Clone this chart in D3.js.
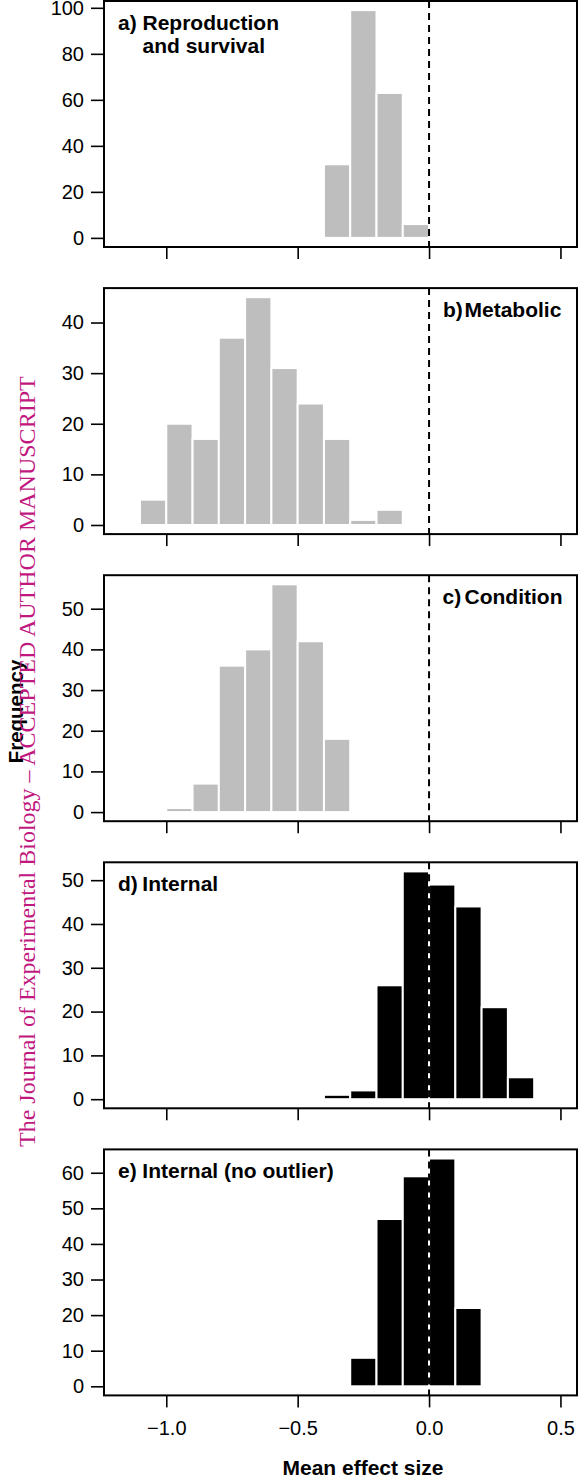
<!DOCTYPE html>
<html><head><meta charset="utf-8">
<script src="https://cdnjs.cloudflare.com/ajax/libs/d3/7.8.5/d3.min.js"></script>
<style>body{margin:0;background:#fff}</style>
</head><body><div id="chart"></div>
<script>
// ---------- data ----------
const binWidth = 0.1;
const binStartsA = [-0.4, -0.3, -0.2, -0.1];
const countsA    = [32, 99, 63, 6];
const binStartsB = [-1.1, -1.0, -0.9, -0.8, -0.7, -0.6, -0.5, -0.4, -0.3, -0.2];
const countsB    = [5, 20, 17, 37, 45, 31, 24, 17, 1, 3];
const binStartsC = [-1.0, -0.9, -0.8, -0.7, -0.6, -0.5, -0.4];
const countsC    = [1, 7, 36, 40, 56, 42, 18];
const binStartsD = [-0.4, -0.3, -0.2, -0.1, 0.0, 0.1, 0.2, 0.3];
const countsD    = [1, 2, 26, 52, 49, 44, 21, 5];
const binStartsE = [-0.3, -0.2, -0.1, 0.0, 0.1];
const countsE    = [8, 47, 59, 64, 22];

const yTicksA = [0, 20, 40, 60, 80, 100];
const yTicksB = [0, 10, 20, 30, 40];
const yTicksC = [0, 10, 20, 30, 40, 50];
const yTicksD = [0, 10, 20, 30, 40, 50];
const yTicksE = [0, 10, 20, 30, 40, 50, 60];

const xTicks = [-1.0, -0.5, 0.0, 0.5];
const xTickLabels = ["\u22121.0", "\u22120.5", "0.0", "0.5"];

const panelTags = ["a)", "b)", "c)", "d)", "e)"];
const panelTitles = [["Reproduction", "and survival"], ["Metabolic"], ["Condition"], ["Internal"], ["Internal (no outlier)"]];
const xLabel = "Mean effect size";
const yLabel = "Frequency";
const watermark = "The Journal of Experimental Biology \u2013 ACCEPTED AUTHOR MANUSCRIPT";

// ---------- layout / style ----------
const W = 579, H = 1480;
const plotLeft = 104, plotRight = 577, plotH = 246, firstTop = 1, panelStep = 287.1;
const gray = "#bebebe";
const panels = [
  {starts: binStartsA, counts: countsA, ticks: yTicksA, fill: gray, tagX: 118, textX: 142.5},
  {starts: binStartsB, counts: countsB, ticks: yTicksB, fill: gray, tagX: 443, textX: 464.5},
  {starts: binStartsC, counts: countsC, ticks: yTicksC, fill: gray, tagX: 442.5, textX: 464.5},
  {starts: binStartsD, counts: countsD, ticks: yTicksD, fill: "#000", tagX: 118, textX: 142.3},
  {starts: binStartsE, counts: countsE, ticks: yTicksE, fill: "#000", tagX: 118, textX: 142.3}
];

const svg = d3.select("#chart").append("svg").attr("width", W).attr("height", H)
  .style("font-family", "'Liberation Sans', Arial, Helvetica, sans-serif");

const xs = d3.scaleLinear().domain([-1.237, 0.563]).range([plotLeft, plotRight]);

panels.forEach((p, i) => {
  const top = firstTop + i * panelStep;
  const maxC = d3.max(p.counts);
  const ys = d3.scaleLinear().domain([-0.04 * maxC, 1.04 * maxC]).range([top + plotH, top]);
  const g = svg.append("g");

  const bins = p.starts.map((s, k) => ({x0: s, x1: s + binWidth, n: p.counts[k]}));
  g.selectAll("rect.bar").data(bins).join("rect").attr("class", "bar")
    .attr("x", d => xs(d.x0)).attr("width", d => xs(d.x1) - xs(d.x0))
    .attr("y", d => ys(d.n)).attr("height", d => ys(0) - ys(d.n))
    .attr("fill", p.fill).attr("stroke", "#fff").attr("stroke-width", 2);

  // dashed zero line
  g.append("line").attr("x1", xs(0)).attr("x2", xs(0)).attr("y1", top).attr("y2", top + plotH)
    .attr("stroke", "#000").attr("stroke-width", 2).attr("stroke-dasharray", "7,5");

  // y axis
  const ya = g.append("g").attr("transform", `translate(${plotLeft},0)`)
    .call(d3.axisLeft(ys).tickValues(p.ticks).tickSize(13).tickPadding(7).tickFormat(d3.format("d")));
  ya.select(".domain").remove();
  ya.selectAll("line").attr("stroke", "#000").attr("stroke-width", 1.6);
  ya.selectAll("text").attr("font-size", 20).attr("fill", "#000").attr("font-family", "'Liberation Sans', Arial, sans-serif");

  // x axis
  const last = i === panels.length - 1;
  const xa = g.append("g").attr("transform", `translate(0,${top + plotH})`)
    .call(d3.axisBottom(xs).tickValues(xTicks).tickSize(12).tickPadding(13.5)
      .tickFormat((d, k) => last ? xTickLabels[k] : ""));
  xa.select(".domain").remove();
  xa.selectAll("line").attr("stroke", "#000").attr("stroke-width", 1.6);
  xa.selectAll("text").attr("font-size", 20).attr("fill", "#000").attr("font-family", "'Liberation Sans', Arial, sans-serif");

  // box
  g.append("rect").attr("x", plotLeft).attr("y", top).attr("width", plotRight - plotLeft).attr("height", plotH)
    .attr("fill", "none").attr("stroke", "#000").attr("stroke-width", 2);

  // panel label
  g.append("text").attr("x", p.tagX).attr("y", top + 29).attr("font-weight", "bold").attr("font-size", 21)
    .text(panelTags[i]);
  panelTitles[i].forEach((t, k) => {
    g.append("text").attr("x", p.textX).attr("y", top + 29 + k * 22.7).attr("font-weight", "bold")
      .attr("font-size", 21).text(t);
  });
});

// axis titles
svg.append("text").attr("x", 363).attr("y", 1475).attr("text-anchor", "middle")
  .attr("font-weight", "bold").attr("font-size", 21).text(xLabel);
svg.append("text").attr("transform", "translate(22.5,711.5) rotate(-90)").attr("text-anchor", "middle")
  .attr("font-weight", "bold").attr("font-size", 20.5).text(yLabel);

// watermark
svg.append("text").attr("transform", "translate(35,1147) rotate(-90)")
  .attr("font-family", "'Liberation Serif', 'Times New Roman', serif").attr("font-size", 24)
  .attr("fill", "#c1187f").text(watermark);
</script></body></html>
